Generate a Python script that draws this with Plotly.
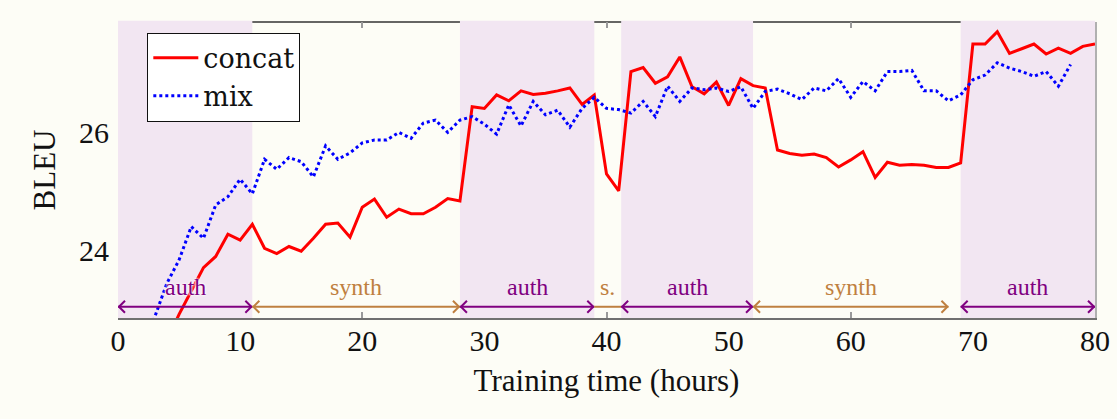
import plotly.graph_objects as go

# BLEU over training time for the two training schemes
concat_hours = list(range(4, 81))
concat_bleu = [
    22.45, 22.90, 23.30, 23.70, 23.89, 24.27, 24.17, 24.44, 24.03, 23.94,
    24.06, 23.98, 24.20, 24.44, 24.46, 24.22, 24.73, 24.87, 24.56, 24.70,
    24.62, 24.62, 24.73, 24.88, 24.84, 26.45, 26.42, 26.65, 26.55, 26.72,
    26.66, 26.68, 26.72, 26.77, 26.49, 26.65, 25.30, 25.01, 27.05, 27.12,
    26.85, 26.96, 27.30, 26.79, 26.67, 26.87, 26.47, 26.93, 26.81, 26.77,
    25.71, 25.65, 25.62, 25.64, 25.58, 25.42, 25.54, 25.68, 25.24, 25.50,
    25.45, 25.46, 25.45, 25.41, 25.41, 25.49, 27.52, 27.52, 27.73, 27.36,
    27.44, 27.52, 27.35, 27.45, 27.36, 27.48, 27.52,
]

mix_hours = list(range(2, 79))
mix_bleu = [
    22.20, 22.85, 23.43, 23.83, 24.40, 24.20, 24.77, 24.91, 25.21, 24.96,
    25.55, 25.38, 25.58, 25.51, 25.25, 25.78, 25.55, 25.66, 25.83, 25.88,
    25.88, 26.01, 25.91, 26.17, 26.22, 26.01, 26.22, 26.28, 26.15, 25.98,
    26.48, 26.12, 26.54, 26.31, 26.39, 26.10, 26.42, 26.61, 26.42, 26.40,
    26.34, 26.54, 26.28, 26.80, 26.54, 26.77, 26.74, 26.77, 26.71, 26.79,
    26.42, 26.71, 26.75, 26.67, 26.57, 26.77, 26.72, 26.93, 26.61, 26.88,
    26.72, 27.05, 27.05, 27.07, 26.72, 26.72, 26.55, 26.65, 26.91, 26.99,
    27.20, 27.11, 27.05, 26.97, 27.05, 26.80, 27.17,
]

# Training phases (hours)
phase_start = [0, 11, 28, 39, 41.2, 52, 69]
phase_end = [11, 28, 39, 41.2, 52, 69, 80]
phase_kind = ["auth", "synth", "auth", "synth", "auth", "synth", "auth"]
phase_label = ["auth", "synth", "auth", "s.", "auth", "synth", "auth"]
arrow_start = [0, 11, 28, 39, 41.2, 52, 69]
arrow_end = [11, 28, 39, 41.2, 52, 68, 80]
arrow_heads = [True, True, True, False, True, True, True]

x_ticks = list(range(0, 81, 10))
y_ticks = [24, 26]

AUTH_FILL = "#f2e6f2"
AUTH_COLOR = "#800080"
SYNTH_COLOR = "#bf8040"
BG = "#fdfdf6"
SERIF = "Liberation Serif"

ARROW_Y = 23.03
LABEL_Y = 23.37

fig = go.Figure()

fig.add_trace(go.Scatter(
    x=concat_hours, y=concat_bleu, mode="lines", name="concat",
    line=dict(color="#ff0000", width=3),
))
fig.add_trace(go.Scatter(
    x=mix_hours, y=mix_bleu, mode="lines", name="mix",
    line=dict(color="#0000ff", width=3, dash="3px,3px"),
))

shapes = []
# top frame line (hidden under the shaded phases)
shapes.append(dict(type="line", xref="x", yref="y domain", x0=0, x1=80, y0=1, y1=1,
                   line=dict(color="#333333", width=1.5), layer="below"))
# shaded authentic-data phases
for s, e, k in zip(phase_start, phase_end, phase_kind):
    if k == "auth":
        shapes.append(dict(type="rect", xref="x", yref="y domain", x0=s, x1=e, y0=0, y1=1.004,
                           fillcolor=AUTH_FILL, line=dict(width=0), layer="below"))

annotations = []
for s, e, k, lab, a0, a1, heads in zip(phase_start, phase_end, phase_kind, phase_label,
                                       arrow_start, arrow_end, arrow_heads):
    col = AUTH_COLOR if k == "auth" else SYNTH_COLOR
    shapes.append(dict(type="line", xref="x", yref="y", x0=a0, x1=a1, y0=ARROW_Y, y1=ARROW_Y,
                       line=dict(color=col, width=2)))
    if heads:
        shapes.append(dict(type="path", xref="x", yref="y", xsizemode="pixel", ysizemode="pixel",
                           xanchor=a0, yanchor=ARROW_Y, path="M 7 -6 L 1 0 L 7 6",
                           line=dict(color=col, width=2)))
        shapes.append(dict(type="path", xref="x", yref="y", xsizemode="pixel", ysizemode="pixel",
                           xanchor=a1, yanchor=ARROW_Y, path="M -7 -6 L -1 0 L -7 6",
                           line=dict(color=col, width=2)))
    font = dict(family=SERIF, size=24, color=col)
    if s == 0:
        font["shadow"] = "0px 0px 2px white, 0px 0px 2px white, 0px 0px 3px white"
    annotations.append(dict(x=(a0 + a1) / 2, y=LABEL_Y, xref="x", yref="y", text=lab,
                            showarrow=False, font=font))

fig.update_layout(
    width=1117, height=419,
    margin=dict(l=118, r=22, t=22, b=101),
    paper_bgcolor=BG, plot_bgcolor=BG,
    font=dict(family=SERIF, size=30, color="#111111"),
    shapes=shapes, annotations=annotations,
    showlegend=True,
    legend=dict(x=0.03, y=0.964, xanchor="left", yanchor="top",
                bgcolor="white", bordercolor="#111111", borderwidth=1,
                font=dict(family="DejaVu Serif", size=27, color="#111111"),
                itemwidth=45, tracegroupgap=0),
    xaxis=dict(range=[0, 80], tickvals=x_ticks, ticks="", showgrid=False, zeroline=False,
               showline=True, linecolor="#707070", linewidth=2, automargin=False,
               ticklabelstandoff=-5,
               title=dict(text="Training time (hours)", standoff=13, font=dict(size=31)),
               tickfont=dict(size=30)),
    xaxis2=dict(range=[0, 80], overlaying="x", tickvals=[20, 40, 60], ticks="inside",
                ticklen=6, tickcolor="#9a9a9a", tickwidth=1.5, mirror="ticks",
                showticklabels=False, showgrid=False, zeroline=False, showline=False,
                layer="below traces", automargin=False),
    yaxis=dict(range=[22.838, 27.897], tickvals=y_ticks, ticks="", showgrid=False,
               zeroline=False, showline=False, ticklabelstandoff=8, automargin=False,
               title=dict(text="BLEU", standoff=14, font=dict(size=31)),
               tickfont=dict(size=30)),
    yaxis2=dict(range=[22.838, 27.897], overlaying="y", side="right", showline=True,
                linecolor="#b0b0b0", linewidth=1.5, showticklabels=False, ticks="",
                showgrid=False, zeroline=False, automargin=False),
)

# invisible trace that activates the secondary axes
fig.add_trace(go.Scatter(x=[0], y=[24], xaxis="x2", yaxis="y2", mode="markers",
                         marker=dict(opacity=0), showlegend=False, hoverinfo="skip"))

fig.write_html("out.html")
